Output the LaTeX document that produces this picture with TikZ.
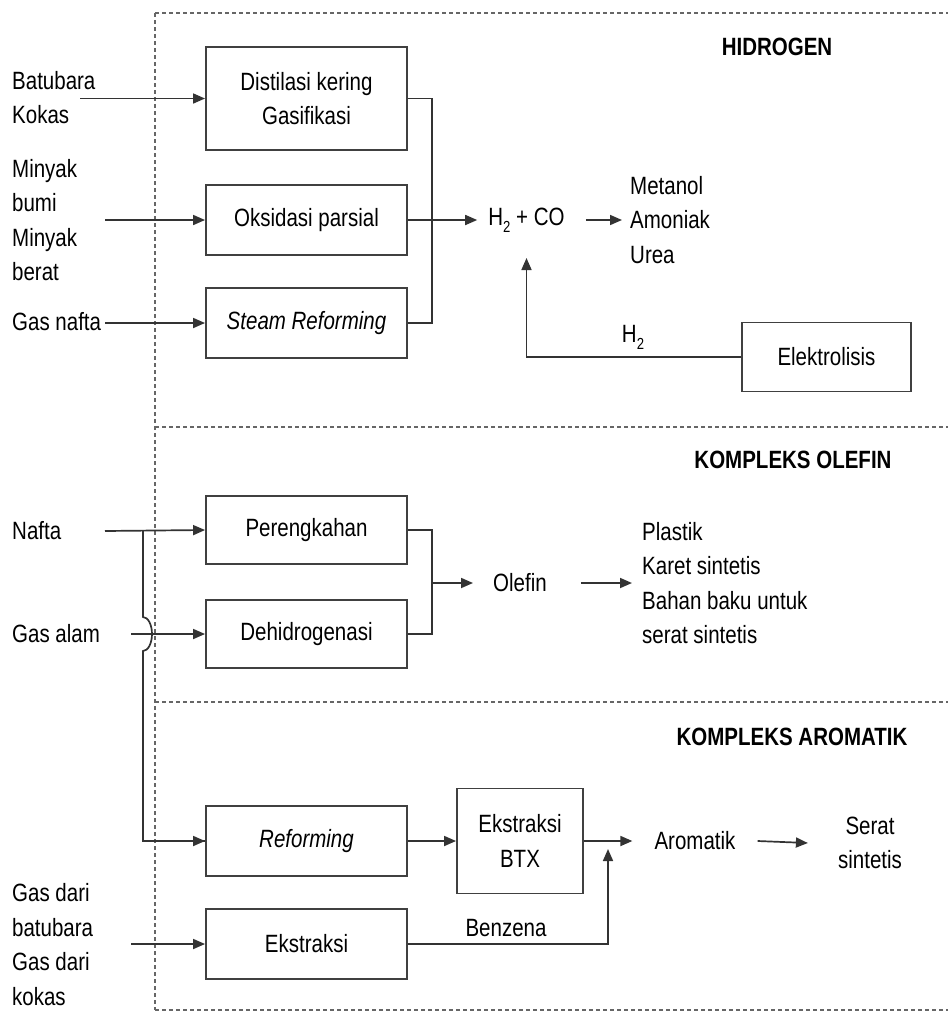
\documentclass[tikz,border=0pt]{standalone}
\usepackage{fontspec}
\setmainfont[FakeStretch=0.82]{Liberation Sans}
\usepackage{tikz}
\usetikzlibrary{arrows.meta,positioning}

\newcommand{\subtwo}{\raisebox{-7pt}{\fontsize{16}{16}\selectfont 2}}

\begin{document}
\begin{tikzpicture}[
    x=1pt, y=-1pt,
    font=\fontsize{25}{34.5}\selectfont,
    box/.style={draw=black!75, line width=1.9pt, minimum width=201pt, minimum height=70pt, align=center, inner sep=0pt},
    txt/.style={align=left, inner sep=0pt},
    title/.style={inner sep=0pt, font=\fontsize{25}{34.5}\selectfont\bfseries},
    link/.style={line width=1.7pt, draw=black!80},
    arrow/.style={-{Triangle[length=12pt,width=10pt]}, line width=1.7pt, draw=black!80},
    zone/.style={draw=black!60, line width=1.3pt, dash pattern=on 4pt off 3pt}
]
    \useasboundingbox (0,0) rectangle (948,1013);

    % garis batas
    \draw[zone] (155,13) -- (155,1010);
    \draw[zone] (155,13) -- (948,13);
    \draw[zone] (155,427) -- (948,427);
    \draw[zone] (155,702) -- (948,702);
    \draw[zone] (155,1010) -- (948,1010);

    % HIDROGEN
    \node[title] (tHid) at (777,47) {HIDROGEN};
    \node[box, minimum height=103pt] (dist) at (306.5,98.5) {Distilasi kering\\Gasifikasi};
    \node[box] (oks) at (306.5,220) {Oksidasi parsial};
    \node[box] (steam) at (306.5,323) {\itshape Steam Reforming};
    \node[box, minimum width=169pt, minimum height=69pt] (elek) at (826.5,357) {Elektrolisis};

    \node[txt, anchor=west] (batu) at (12,97.5) {Batubara\\Kokas};
    \node[txt, anchor=west] (minyak) at (12,220) {Minyak\\bumi\\Minyak\\berat};
    \node[txt, anchor=west] (gasNafta) at (12,322) {Gas nafta};
    \coordinate (inBatu) at (80,98.5);
    \coordinate (inMinyak) at (105,220);
    \coordinate (inGasNafta) at (105,323);

    \node[inner xsep=11pt, inner ysep=0pt] (syngas) at (526.5,220) {H\subtwo{} + CO};
    \node[txt, anchor=west] (hidProd) at (630,220) {Metanol\\Amoniak\\Urea};
    \node[inner sep=0pt] (lblH2) at (633,337) {H\subtwo};
    \coordinate (hidJoin) at (432,220);
    \coordinate (h2Up) at (526.5,258);

    \draw[arrow] (inBatu) -- (dist.west);
    \draw[arrow] (inMinyak) -- (oks.west);
    \draw[arrow] (inGasNafta) -- (steam.west);
    \draw[link] (dist.east) -| (hidJoin);
    \draw[link] (steam.east) -| (hidJoin);
    \draw[arrow] (oks.east) -- (syngas.west);
    \draw[arrow, shorten <=10pt] (syngas.east) -- ([xshift=-8pt]hidProd.west);
    \draw[arrow] (elek.west) -| (h2Up);

    % KOMPLEKS OLEFIN
    \node[title] (tOlefin) at (793,460) {KOMPLEKS OLEFIN};
    \node[box, minimum height=68pt] (pereng) at (306.5,530) {Perengkahan};
    \node[box, minimum height=68pt] (dehid) at (306.5,634) {Dehidrogenasi};

    \node[txt, anchor=west] (nafta) at (12,531) {Nafta};
    \node[txt, anchor=west] (gasAlam) at (12,634) {Gas alam};
    \coordinate (inNafta) at (105,531);
    \coordinate (inGasAlam) at (131,634);
    \coordinate (naftaSplit) at (143,531);
    \coordinate (hopTop) at (143,617);

    \node[inner xsep=20pt, inner ysep=0pt] (olefin) at (520,583) {Olefin};
    \node[txt, anchor=west] (olProd) at (642,583) {Plastik\\Karet sintetis\\Bahan baku untuk\\serat sintetis};
    \coordinate (olJoin) at (432,583);

    \draw[arrow] (inNafta) -- (pereng.west);
    \draw[arrow] (inGasAlam) -- (dehid.west);
    \draw[link] (pereng.east) -| (olJoin);
    \draw[link] (dehid.east) -| (olJoin);
    \draw[arrow] (olJoin) -- (olefin.west);
    \draw[arrow, shorten <=14pt] (olefin.east) -- ([xshift=-10pt]olProd.west);

    % KOMPLEKS AROMATIK
    \node[title] (tArom) at (792,737) {KOMPLEKS AROMATIK};
    \node[box] (reform) at (306.5,841) {\itshape Reforming};
    \node[box, minimum width=126pt, minimum height=105pt] (btx) at (520,841) {Ekstraksi\\BTX};
    \node[box] (ekstr) at (306.5,944) {Ekstraksi};

    \node[txt, anchor=west] (gasDari) at (12,944.5) {Gas dari\\batubara\\Gas dari\\kokas};
    \coordinate (inGasDari) at (131,944);

    \node[inner xsep=22pt, inner ysep=0pt] (aromatik) at (695,841) {Aromatik};
    \node[align=center, inner sep=0pt] (serat) at (870,843) {Serat\\sintetis};
    \node[inner sep=0pt] (lblBenz) at (506,928) {Benzena};
    \coordinate (benzUp) at (608,849);

    \draw[link] (naftaSplit) -- (hopTop)
        arc[start angle=90, end angle=-90, x radius=9pt, y radius=17pt]
        |- (reform.west);
    \draw[arrow] ([xshift=-1pt]reform.west) -- (reform.west);
    \draw[arrow] (reform.east) -- (btx.west);
    \draw[arrow] (inGasDari) -- (ekstr.west);
    \draw[arrow] (btx.east) -- (aromatik.west);
    \draw[arrow] (ekstr.east) -| (benzUp);
    \draw[arrow] (aromatik.east) -- ([xshift=-30pt]serat.west);
\end{tikzpicture}
\end{document}
